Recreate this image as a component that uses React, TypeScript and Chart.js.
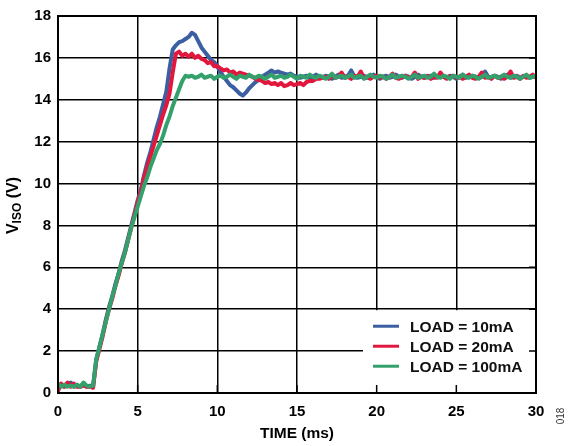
import React, { useEffect, useRef } from 'react';
import { Chart, registerables } from 'chart.js';

Chart.register(...registerables);

// Sample times (ms)
const TIME_MS = [
  0, 0.2, 0.4, 0.6, 0.8, 1, 1.2, 1.4, 1.6, 1.8,
  2, 2.2, 2.4, 2.6, 2.8, 3, 3.2, 3.4, 3.6, 3.8,
  4, 4.2, 4.4, 4.6, 4.8, 5, 5.2, 5.4, 5.6, 5.8,
  6, 6.2, 6.4, 6.6, 6.8, 7, 7.2, 7.4, 7.6, 7.8,
  8, 8.2, 8.4, 8.6, 8.8, 9, 9.2, 9.4, 9.6, 9.8,
  10, 10.2, 10.4, 10.6, 10.8, 11, 11.2, 11.4, 11.6, 11.8,
  12, 12.2, 12.4, 12.6, 12.8, 13, 13.2, 13.4, 13.6, 13.8,
  14, 14.2, 14.4, 14.6, 14.8, 15, 15.2, 15.4, 15.6, 15.8,
  16, 16.2, 16.4, 16.6, 16.8, 17, 17.2, 17.4, 17.6, 17.8,
  18, 18.2, 18.4, 18.6, 18.8, 19, 19.2, 19.4, 19.6, 19.8,
  20, 20.2, 20.4, 20.6, 20.8, 21, 21.2, 21.4, 21.6, 21.8,
  22, 22.2, 22.4, 22.6, 22.8, 23, 23.2, 23.4, 23.6, 23.8,
  24, 24.2, 24.4, 24.6, 24.8, 25, 25.2, 25.4, 25.6, 25.8,
  26, 26.2, 26.4, 26.6, 26.8, 27, 27.2, 27.4, 27.6, 27.8,
  28, 28.2, 28.4, 28.6, 28.8, 29, 29.2, 29.4, 29.6, 29.8,
  30,
];

// VISO (V), LOAD = 10mA
const LOAD_10MA = [
  0.35, 0.4, 0.3, 0.35, 0.5, 0.3, 0.35, 0.3, 0.45, 0.3, 0.35, 0.3,
  1.6, 2.2, 2.8, 3.5, 4.1, 4.6, 5.2, 5.7, 6.3, 6.8,
  7.4, 8.0, 8.6, 9.2, 9.7, 10.4, 11.0, 11.5, 12.1, 12.7,
  13.2, 13.8, 14.4, 15.5, 16.4, 16.6, 16.75, 16.8, 16.9, 17.0,
  17.2, 17.1, 16.8, 16.5, 16.3, 16.1, 15.9, 15.8, 15.6, 15.3,
  15.1, 14.9, 14.7, 14.6, 14.45, 14.3, 14.2, 14.35, 14.55, 14.7,
  14.85, 14.95, 15.1, 15.2, 15.3, 15.4, 15.3, 15.35, 15.3, 15.25,
  15.2, 15.25, 15.15, 15.1,
  15.05, 15.1, 15.15, 15.05, 15.1, 15.2, 15.1, 15.05, 15.15, 15.1,
  15.0, 15.1, 15.2, 15.05, 15.1, 15.15, 15.4, 15.1, 15.05, 15.1,
  15.15, 15.05, 15.1, 15.2, 15.1, 15.0, 15.1, 15.15, 15.05, 15.1,
  15.2, 15.1, 15.05, 15.15, 15.1, 15.0, 15.1, 15.2, 15.1, 15.05,
  15.1, 15.15, 15.05, 15.1, 15.2, 15.1, 15.05, 15.15, 15.1, 15.0,
  15.1, 15.2, 15.05, 15.1, 15.15, 15.1, 15.05, 15.1, 15.35, 15.1,
  15.05, 15.15, 15.1, 15.0, 15.1, 15.2, 15.05, 15.1, 15.15, 15.05,
  15.1, 15.15, 15.05, 15.1, 15.1,
];

// VISO (V), LOAD = 20mA
const LOAD_20MA = [
  0.1, 0.45, 0.3, 0.5, 0.3, 0.45, 0.3, 0.3, 0.35, 0.3, 0.3, 0.25,
  1.5, 2.1, 2.7, 3.4, 4.0, 4.5, 5.1, 5.6, 6.2, 6.7,
  7.3, 7.9, 8.5, 9.1, 9.6, 10.3, 10.8, 11.3, 11.8, 12.3,
  12.8, 13.3, 13.75, 14.3, 15.3, 16.2, 16.3, 16.1, 16.2, 16.05,
  16.2, 16.0, 16.1, 15.95, 15.9, 15.75, 15.8, 15.6, 15.6, 15.5,
  15.4, 15.45, 15.3, 15.35, 15.2, 15.3, 15.25, 15.2, 15.15, 15.1,
  15.0, 14.95, 14.9, 14.8, 14.85, 14.75, 14.8, 14.7, 14.8, 14.65,
  14.7, 14.8, 14.7, 14.75, 14.8, 14.7, 14.85, 14.9, 14.9, 15.0,
  15.0, 15.05,
  15.1, 15.0, 15.15, 15.05, 15.1, 15.3, 15.05, 15.1, 15.0, 15.15,
  15.1, 15.35, 15.05, 15.1, 15.0, 15.1, 15.15, 15.05, 15.1, 15.0,
  15.1, 15.25, 15.05, 15.0, 15.1, 15.15, 15.05, 15.1, 15.3, 15.0,
  15.1, 15.05, 15.15, 15.0, 15.1, 15.05, 15.3, 15.1, 15.0, 15.1,
  15.15, 15.05, 15.1, 15.0, 15.1, 15.2, 15.05, 15.0, 15.1, 15.3,
  15.05, 15.1, 15.0, 15.15, 15.05, 15.1, 15.0, 15.1, 15.35, 15.05,
  15.1, 15.0, 15.15, 15.05, 15.1, 15.2, 15.05,
];

// VISO (V), LOAD = 100mA
const LOAD_100MA = [
  0.45, 0.3, 0.4, 0.3, 0.35, 0.3, 0.4, 0.3, 0.5, 0.35, 0.3, 0.35,
  1.6, 2.2, 2.8, 3.4, 4.0, 4.6, 5.1, 5.7, 6.2, 6.7,
  7.3, 7.9, 8.4, 8.9, 9.4, 9.9, 10.3, 10.8, 11.2, 11.6,
  11.9, 12.3, 12.8, 13.2, 13.7, 14.1, 14.5, 14.9, 15.15,
  15.1, 15.15, 15.05, 15.1, 15.2, 15.05, 15.1, 15.15, 15.0, 15.1,
  15.15, 15.05, 15.1, 15.2, 15.1, 15.0, 15.15, 15.1, 15.05, 15.2,
  15.1, 15.05, 15.15, 15.1, 15.0, 15.1, 15.2, 15.05, 15.1, 15.15,
  15.05, 15.1, 15.2, 15.1, 15.0, 15.15, 15.1, 15.05, 15.2, 15.1,
  15.05, 15.15, 15.1, 15.0, 15.1, 15.25, 15.05, 15.1, 15.15, 15.05,
  15.1, 15.2, 15.05, 15.1, 15.15, 15.0, 15.1, 15.2, 15.1, 15.05,
  15.15, 15.1, 15.0, 15.1, 15.2, 15.05, 15.1, 15.15, 15.1, 15.0,
  15.1, 15.2, 15.05, 15.1, 15.15, 15.05, 15.1, 15.25, 15.1, 15.05,
  15.15, 15.1, 15.0, 15.15, 15.1, 15.05, 15.2, 15.1, 15.05, 15.15,
  15.1, 15.0, 15.1, 15.2, 15.05, 15.1, 15.15, 15.05, 15.1, 15.2,
  15.1, 15.05, 15.15, 15.1, 15.0, 15.1, 15.2, 15.05, 15.1, 15.15,
];

const SERIES_LABELS = ['LOAD = 10mA', 'LOAD = 20mA', 'LOAD = 100mA'];
const SERIES_COLORS = ['#3B5FA2', '#E2173D', '#34A06B'];
const X_TICKS = [0, 5, 10, 15, 20, 25, 30];
const Y_TICKS = [0, 2, 4, 6, 8, 10, 12, 14, 16, 18];
const X_TITLE = 'TIME (ms)';
const Y_TITLE_MAIN = 'V';
const Y_TITLE_SUB = 'ISO';
const Y_TITLE_END = ' (V)';
const FIGURE_ID = '018';

const FONT = "'Liberation Sans', Arial, sans-serif";

const overlayPlugin = {
  id: 'overlay',
  afterDatasetsDraw(chart: any) {
    const { ctx, chartArea: a, scales } = chart;
    const xs = scales.x;
    const ys = scales.y;
    ctx.save();
    // legend box (white, no border)
    const top = ys.getPixelForValue(4) + 1;
    const left = a.right - 173;
    ctx.fillStyle = '#ffffff';
    ctx.fillRect(left, top, a.right - left - 1, a.bottom - top - 1);

    // inner tick marks
    ctx.strokeStyle = '#000';
    ctx.lineWidth = 1.5;
    ctx.beginPath();
    X_TICKS.forEach((v) => {
      const px = xs.getPixelForValue(v);
      ctx.moveTo(px, a.bottom);
      ctx.lineTo(px, a.bottom - 8);
    });
    Y_TICKS.forEach((v) => {
      const py = ys.getPixelForValue(v);
      ctx.moveTo(a.right, py);
      ctx.lineTo(a.right - 7, py);
    });
    ctx.stroke();

    // frame
    ctx.lineWidth = 2;
    ctx.strokeRect(a.left, a.top, a.right - a.left, a.bottom - a.top);

    // legend entries
    ctx.font = `bold 15.5px ${FONT}`;
    ctx.textBaseline = 'middle';
    ctx.textAlign = 'left';
    chart.data.datasets.forEach((ds: any) => {
      const idx = SERIES_LABELS.indexOf(ds.label);
      const yy = top + 16 + idx * 20;
      ctx.strokeStyle = ds.borderColor;
      ctx.lineWidth = 3;
      ctx.beginPath();
      ctx.moveTo(left + 10, yy);
      ctx.lineTo(left + 36, yy);
      ctx.stroke();
      ctx.fillStyle = '#111';
      ctx.fillText(ds.label, left + 47, yy + 1);
    });
    ctx.restore();
  },
  afterDraw(chart: any) {
    const { ctx, chartArea: a } = chart;
    ctx.save();
    ctx.fillStyle = '#000';
    // x title
    ctx.font = `bold 15.5px ${FONT}`;
    ctx.textAlign = 'center';
    ctx.textBaseline = 'middle';
    ctx.fillText(X_TITLE, (a.left + a.right) / 2, 434);

    // y title with subscript
    const cy = (a.top + a.bottom) / 2 + 1;
    ctx.translate(14, cy);
    ctx.rotate(-Math.PI / 2);
    const mainFont = `bold 16px ${FONT}`;
    const subFont = `bold 12px ${FONT}`;
    ctx.font = mainFont;
    const w1 = ctx.measureText(Y_TITLE_MAIN).width;
    const w3 = ctx.measureText(Y_TITLE_END).width;
    ctx.font = subFont;
    const w2 = ctx.measureText(Y_TITLE_SUB).width;
    const total = w1 + w2 + w3;
    let x0 = -total / 2;
    ctx.textAlign = 'left';
    ctx.font = mainFont;
    ctx.fillText(Y_TITLE_MAIN, x0, 0);
    x0 += w1;
    ctx.font = subFont;
    ctx.fillText(Y_TITLE_SUB, x0, 4);
    x0 += w2;
    ctx.font = mainFont;
    ctx.fillText(Y_TITLE_END, x0, 0);
    ctx.restore();

    ctx.save();
    ctx.translate(561, 416);
    ctx.rotate(-Math.PI / 2);
    ctx.font = `10px ${FONT}`;
    ctx.fillStyle = '#333';
    ctx.textAlign = 'center';
    ctx.textBaseline = 'middle';
    ctx.fillText(FIGURE_ID, 0, 0);
    ctx.restore();
  },
};

export default function App() {
  const canvasRef = useRef<HTMLCanvasElement | null>(null);

  useEffect(() => {
    document.body.style.margin = '0';
    const canvas = canvasRef.current;
    if (!canvas) return;
    const series = [LOAD_10MA, LOAD_20MA, LOAD_100MA];
    const drawOrder = [2, 1, 0];
    const chart = new Chart(canvas, {
      type: 'line',
      data: {
        datasets: series.map((vals, i) => ({
          label: SERIES_LABELS[i],
          data: vals.map((v, j) => ({ x: TIME_MS[j], y: v })),
          borderColor: SERIES_COLORS[i],
          backgroundColor: SERIES_COLORS[i],
          borderWidth: 4,
          pointRadius: 0,
          tension: 0,
          fill: false,
          order: drawOrder[i],
          borderJoinStyle: 'round' as const,
          borderCapStyle: 'round' as const,
        })),
      },
      options: {
        animation: false,
        responsive: false,
        devicePixelRatio: 1,
        layout: { padding: { top: 12, right: 36, left: 0, bottom: 0 } },
        plugins: {
          legend: { display: false },
          tooltip: { enabled: false },
        },
        scales: {
          x: {
            type: 'linear',
            min: 0,
            max: 30,
            afterBuildTicks: (s: any) => {
              s.ticks = X_TICKS.map((v) => ({ value: v }));
            },
            afterFit: (s: any) => {
              s.height = 53;
            },
            grid: { color: '#000', lineWidth: 1.5, drawTicks: false },
            border: { display: false },
            ticks: {
              color: '#000',
              padding: 10,
              font: { family: FONT, size: 15, weight: 'bold' },
              maxRotation: 0,
            },
          },
          y: {
            type: 'linear',
            min: 0,
            max: 18,
            afterBuildTicks: (s: any) => {
              s.ticks = Y_TICKS.map((v) => ({ value: v }));
            },
            afterFit: (s: any) => {
              s.width = 58;
            },
            grid: { color: '#000', lineWidth: 1.5, drawTicks: false },
            border: { display: false },
            ticks: {
              color: '#000',
              padding: 7,
              font: { family: FONT, size: 15, weight: 'bold' },
            },
          },
        },
      },
      plugins: [overlayPlugin],
    } as any);
    return () => chart.destroy();
  }, []);

  return (
    <div style={{ position: 'absolute', left: 0, top: 0, width: 572, height: 446, background: '#fff' }}>
      <canvas ref={canvasRef} width={572} height={446} style={{ width: 572, height: 446 }} />
    </div>
  );
}
